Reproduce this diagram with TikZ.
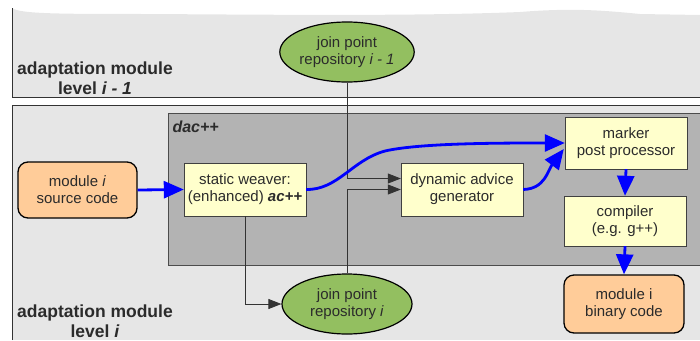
\documentclass[tikz,border=0pt]{standalone}
\usepackage{fontspec}
\setmainfont{Liberation Sans}
\usetikzlibrary{arrows.meta,positioning,shapes.geometric,calc}

\definecolor{panelgray}{HTML}{E6E6E6}
\definecolor{dacgray}{HTML}{B3B3B3}
\definecolor{boxyellow}{HTML}{FFFFCC}
\definecolor{codeorange}{HTML}{FFCC99}
\definecolor{repogreen}{HTML}{93BF60}
\definecolor{txtgray}{HTML}{2B2B2B}

\begin{document}
\begin{tikzpicture}[x=1pt, y=-1pt,
    toolbox/.style={rectangle, draw=black!75, fill=boxyellow, minimum width=122pt, minimum height=53pt, align=center, inner sep=2pt, text=txtgray, font=\fontsize{15}{17}\selectfont},
    codebox/.style={rectangle, rounded corners=10pt, draw=black, line width=1.3pt, fill=codeorange, minimum width=119pt, minimum height=56pt, align=center, text=txtgray, font=\fontsize{15}{17}\selectfont},
    repo/.style={ellipse, draw=black, line width=1.2pt, fill=repogreen, minimum width=130pt, minimum height=60pt, inner sep=0pt, align=center, text=txtgray, font=\fontsize{15}{17}\selectfont},
    lvltext/.style={align=center, text=txtgray, font=\fontsize{17.5}{20}\selectfont\bfseries},
    flow/.style={-{Triangle[length=20pt,width=17pt]}, line width=2.8pt, blue},
    link/.style={-{Triangle[length=13pt,width=10pt]}, line width=0.8pt, black!80},
]
    \useasboundingbox (0,0) rectangle (700,340);
    \clip (0,0) rectangle (700,340);

    % Panels (level i-1 on top, level i below)
    \fill[panelgray] (12,8) .. controls (20,14) and (60,14) .. (150,14)
        .. controls (300,15) and (420,16) .. (520,12)
        .. controls (570,8) and (600,10) .. (640,14) -- (700,15)
        -- (700,97) -- (12,97) -- cycle;
    \draw[black!80] (12,8) -- (12,97) -- (700,97);
    \fill[panelgray] (12,105) rectangle (700,340);
    \draw[black!80] (12,340) -- (12,105) -- (700,105);
    \filldraw[fill=dacgray, draw=black!70] (702,113) -- (168,113) -- (168,265) -- (702,265);

    % Labels
    \node[lvltext] (lvlprev) at (95,78) {adaptation module\\level \textit{i - 1}};
    \node[lvltext] (lvlcur) at (95,321) {adaptation module\\level \textit{i}};
    \node[anchor=west, text=txtgray, font=\fontsize{16}{18}\selectfont\bfseries\itshape] (daclbl) at (169,127) {dac++};

    % Nodes
    \node[repo] (jpprev) at (347,52) {join point\\repository \textit{i - 1}};
    \node[repo] (jpcur) at (347,304) {join point\\repository \textit{i}};
    \node[codebox] (src) at (77.5,190) {module \textit{i}\\source code};
    \node[toolbox] (sw) at (245,189.5) {static weaver:\\(enhanced) \textbf{\textit{ac++}}};
    \node[toolbox] (dag) at (462,189.5) {dynamic advice\\generator};
    \node[toolbox, minimum height=52pt] (mpp) at (626,143) {marker\\post processor};
    \node[toolbox, minimum height=50pt] (cc) at (625,221) {compiler\\(e.g. g++)};
    \node[codebox, minimum width=120pt, minimum height=58pt] (bin) at (624,304) {module i\\binary code};

    % Join point repository links
    \draw[link] (jpprev.south) |- ($(dag.west)+(0,-11)$);
    \draw[link] (jpcur.north) |- (dag.west);
    \draw[link] (sw.south) |- (jpcur.west);

    % Main flow
    \draw[flow] (src.east) -- (sw.west);
    \draw[flow] (sw.east) .. controls (338,190) and (352,160) .. (385,151)
        .. controls (420,143) and (500,143) .. (mpp.west);
    \draw[flow] (dag.east) .. controls (545,189) and (548,170) .. ($(mpp.west)+(-1,6)$);
    \draw[flow] (mpp.south) -- (cc.north);
    \draw[flow] (cc.south) -- (bin.north);
\end{tikzpicture}
\end{document}
